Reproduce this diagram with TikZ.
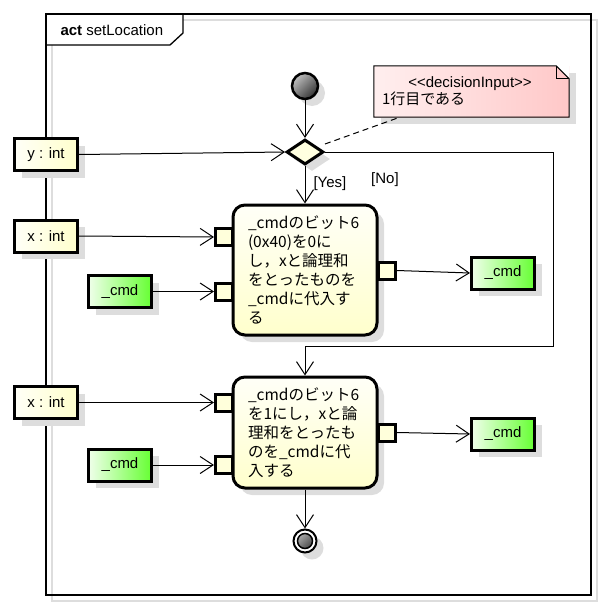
\documentclass[tikz,border=0pt]{standalone}
\usepackage{fontspec}
\setmainfont{Liberation Sans}
\newfontfamily\jpfont{Noto Sans CJK JP}
\usetikzlibrary{arrows.meta,shapes.geometric,shadows}
\definecolor{pinyellow}{RGB}{255,255,204}
\definecolor{cmdgreen}{RGB}{102,255,51}
\definecolor{notepink}{RGB}{255,200,200}
\definecolor{shadowgray}{RGB}{221,221,221}

\begin{document}
\begin{tikzpicture}[x=1pt,y=-1pt,
	font=\fontsize{15}{19}\selectfont,
	boxshadow/.style={drop shadow={shadow xshift=7pt,shadow yshift=-7pt,fill=shadowgray,opacity=1}},
	objbox/.style={draw,line width=3pt,minimum width=63pt,minimum height=32pt,inner sep=0pt,boxshadow,left color=pinyellow!15!white,right color=pinyellow},
	cmdbox/.style={objbox,left color=cmdgreen!10!white,right color=cmdgreen},
	pinbox/.style={draw,line width=3pt,minimum size=17pt,inner sep=0pt,fill=pinyellow!70!white},
	actbox/.style={draw,line width=3pt,rounded corners=12pt,minimum width=144pt,text width=114pt,align=left,inner xsep=15pt,boxshadow,top color=pinyellow!15!white,bottom color=pinyellow,font=\jpfont\fontsize{15.5}{19}\selectfont},
	decbox/.style={diamond,draw,line width=3pt,minimum width=37pt,minimum height=25pt,inner sep=0pt,fill=pinyellow!60!white,boxshadow},
	notebox/.style={minimum width=195pt,minimum height=51pt,text width=179pt,align=left,inner sep=0pt,left color=notepink!30!white,right color=notepink,boxshadow,font=\fontsize{15}{17}\selectfont},
	startnode/.style={circle,draw,line width=2.5pt,minimum size=26pt,inner sep=0pt,boxshadow,top color=black!25,bottom color=black!80,shading angle=45},
	endnode/.style={circle,draw,line width=2pt,fill=white,minimum size=23pt,inner sep=0pt,boxshadow,
		path picture={\draw[line width=1.5pt,top color=black!25,bottom color=black!80,shading angle=45] (path picture bounding box.center) circle (7.5pt);}},
	flow/.style={line width=1pt,-{Straight Barb[length=13pt,width=17pt]}}]
	\useasboundingbox (0,0) rectangle (602,608);
	% frame
	\draw[shadowgray,line width=1.3pt] (52,20) rectangle (597,601);
	\fill[white] (46,14) -- (183,14) -- (183,33) -- (170,45) -- (46,45) -- cycle;
	\draw[line width=1.3pt] (46,14) rectangle (591,595);
	\draw[line width=1.3pt] (46,45) -- (170,45) -- (183,33) -- (183,14);
	\node[anchor=west] (frametitle) at (57,30) {\textbf{act} setLocation};

	\node[startnode] (start) at (305,86) {};
	\node[decbox] (dec) at (305,152) {};
	\node[notebox] (dnote) at (471.5,91.5) {\makebox[176pt]{\textless\kern0pt\textless decisionInput\textgreater\kern0pt\textgreater}\\{\jpfont 1行目である}};
	\fill[white] ([xshift=-13pt]dnote.north east) -- (dnote.north east) -- ([yshift=-13pt]dnote.north east) -- cycle;
	\draw[line width=1pt] (dnote.south west) -- (dnote.north west) -- ([xshift=-13pt]dnote.north east) -- ([yshift=-13pt]dnote.north east) -- (dnote.south east) -- cycle;
	\draw[line width=1pt] ([xshift=-13pt]dnote.north east) -- ++(0,13) -- ([yshift=-13pt]dnote.north east);
	\draw[line width=1pt,dash pattern=on 6pt off 4pt] ([yshift=8pt]dec.east) -- ([xshift=26pt]dnote.south west);

	\node[objbox] (yin) at (46,154.5) {y : int};
	\node[objbox] (xin1) at (46,236) {x : int};
	\node[cmdbox] (cmdin1) at (120,291.5) {\_cmd};
	\node[cmdbox] (cmdout1) at (503,273) {\_cmd};
	\node[objbox] (xin2) at (46,402.5) {x : int};
	\node[cmdbox] (cmdin2) at (120,465) {\_cmd};
	\node[cmdbox] (cmdout2) at (503,434) {\_cmd};

	\node[actbox,minimum height=130pt] (act1) at (305,270) {\_cmdのビット6\\(0x40)を0に\\し，xと論理和\\をとったものを\\\_cmdに代入す\\る};
	\node[actbox,minimum height=111pt] (act2) at (305,432.5) {\_cmdのビット6\\を1にし，xと論\\理和をとったも\\のを\_cmdに代\\入する};

	\node[pinbox] (p1in1) at (224,237) {};
	\node[pinbox] (p1in2) at (224,291.5) {};
	\node[pinbox] (p1out) at (387,270.5) {};
	\node[pinbox] (p2in1) at (224,402.5) {};
	\node[pinbox] (p2in2) at (224,465) {};
	\node[pinbox] (p2out) at (387,432.5) {};

	\node[endnode] (endn) at (305,541) {};
	\coordinate (nobend) at (553,346);

	\draw[flow] (start) -- (dec.north);
	\draw[flow] (yin.east) -- (dec.west);
	\draw[flow] (dec.south) -- (act1.north);
	\node[anchor=west] (yeslabel) at (310,184) {[Yes]};
	\draw[flow] (dec.east) -| (nobend) -| (act2.north);
	\node (nolabel) at (385,180) {[No]};
	\draw[flow] (xin1.east) -- (p1in1.west);
	\draw[flow] (cmdin1.east) -- (p1in2.west);
	\draw[flow] (p1out.east) -- (cmdout1.west);
	\draw[flow] (xin2.east) -- (p2in1.west);
	\draw[flow] (cmdin2.east) -- (p2in2.west);
	\draw[flow] (p2out.east) -- (cmdout2.west);
	\draw[flow] (act2.south) -- (endn.north);
\end{tikzpicture}
\end{document}
